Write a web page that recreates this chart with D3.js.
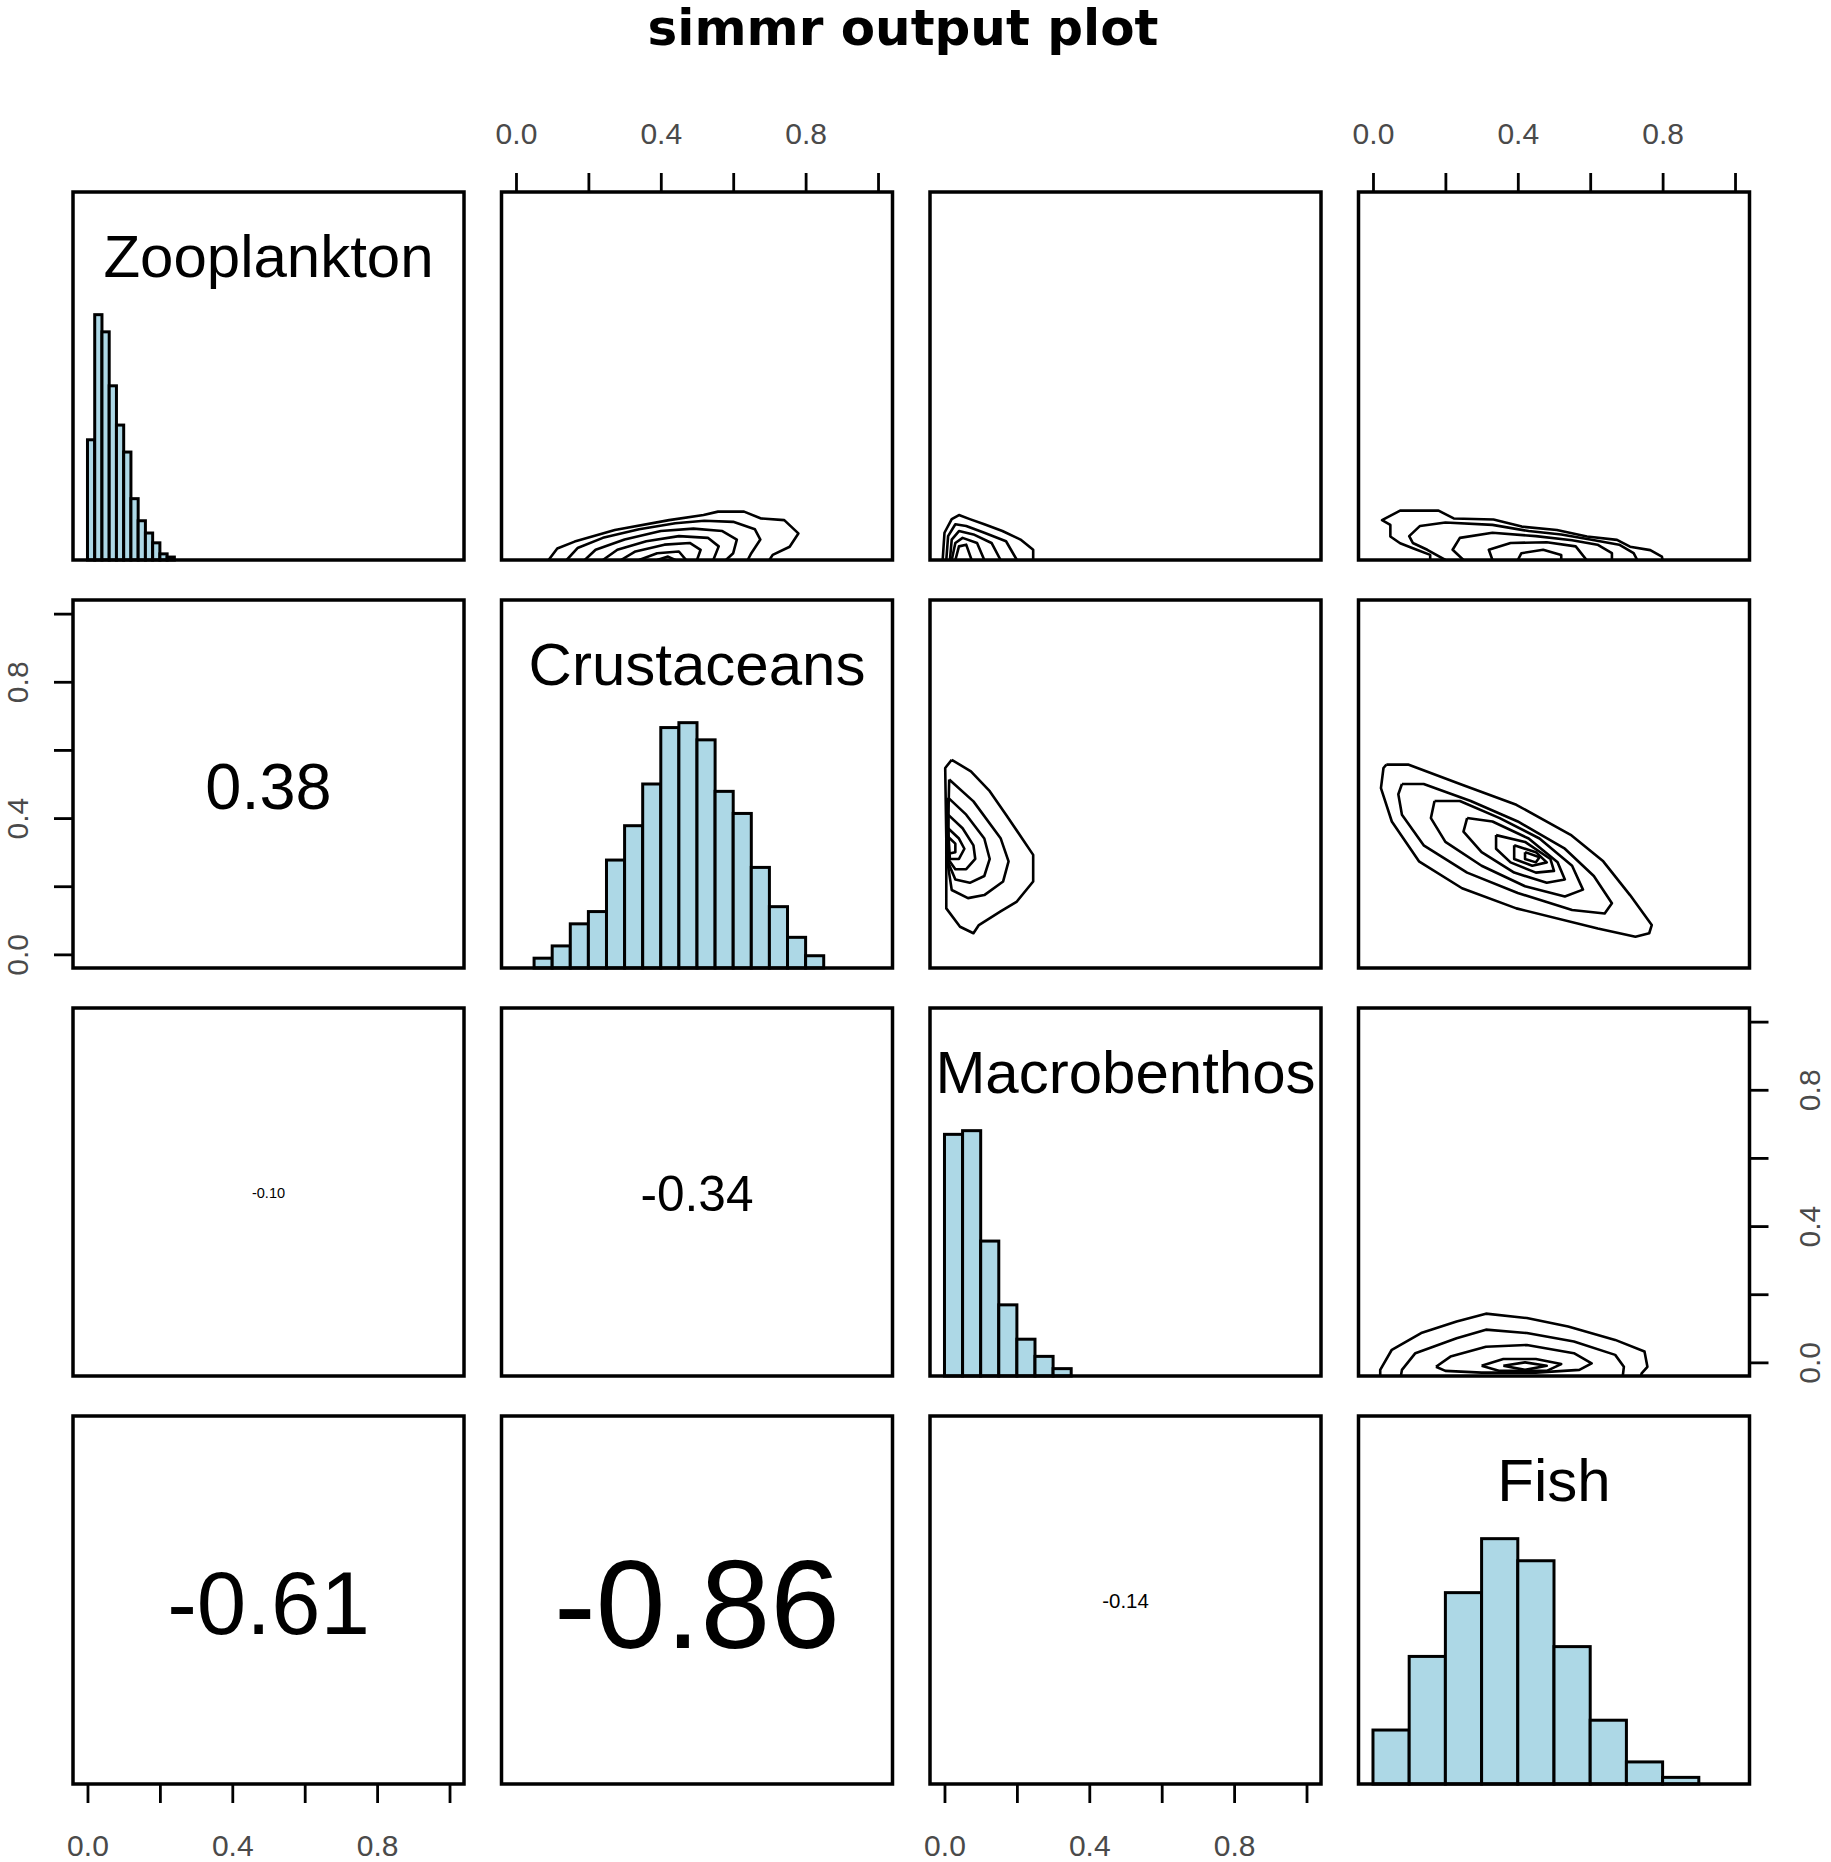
<!DOCTYPE html>
<html>
<head>
<meta charset="utf-8">
<script src="https://cdn.jsdelivr.net/npm/d3@7"></script>
<style>
  body { margin: 0; background: #fff; }
  text { font-family: "Liberation Sans", Arial, sans-serif; }
</style>
</head>
<body>
<div id="chart"></div>
<script>
// ---- data ----
const sources = ['Zooplankton', 'Crustaceans', 'Macrobenthos', 'Fish'];

// histogram breaks and counts relative to the tallest bar
const zooBreaks = [0, 0.02, 0.04, 0.06, 0.08, 0.10, 0.12, 0.14, 0.16, 0.18, 0.20, 0.22, 0.24];
const zooCounts = [0.49, 1.00, 0.93, 0.71, 0.55, 0.44, 0.25, 0.16, 0.11, 0.07, 0.025, 0.012];
const crusBreaks = [0.05, 0.10, 0.15, 0.20, 0.25, 0.30, 0.35, 0.40, 0.45, 0.50, 0.55, 0.60, 0.65, 0.70, 0.75, 0.80, 0.85];
const crusCounts = [0.04, 0.09, 0.18, 0.23, 0.44, 0.58, 0.75, 0.98, 1.00, 0.93, 0.72, 0.63, 0.41, 0.25, 0.125, 0.05];
const macroBreaks = [0, 0.05, 0.10, 0.15, 0.20, 0.25, 0.30, 0.35];
const macroCounts = [0.985, 1.00, 0.55, 0.29, 0.15, 0.08, 0.03];
const fishBreaks = [0, 0.1, 0.2, 0.3, 0.4, 0.5, 0.6, 0.7, 0.8, 0.9];
const fishCounts = [0.22, 0.52, 0.78, 1.00, 0.91, 0.56, 0.26, 0.09, 0.027];

// lower panels: [row, col, correlation]
const corRows = [1, 2, 2, 3, 3, 3];
const corCols = [0, 0, 1, 0, 1, 2];
const corValues = [0.38, -0.10, -0.34, -0.61, -0.86, -0.14];

// axis ticks
const tickValues = [0, 0.2, 0.4, 0.6, 0.8, 1.0];
const tickLabels = ['0.0', '', '0.4', '', '0.8', ''];

// density contour rings, [x, y] in axis units (x = column source, y = row source)
const contourZooCrus = [
  [[0.09,-0.04],[0.114,-0.006],[0.162,0.014],[0.273,0.048],[0.423,0.077],[0.518,0.092],[0.558,0.102],[0.63,0.102],[0.677,0.082],[0.741,0.077],[0.78,0.038],[0.756,-0.001],[0.709,-0.025],[0.70,-0.04]],
  [[0.14,-0.04],[0.17,-0.005],[0.24,0.025],[0.34,0.05],[0.44,0.068],[0.52,0.075],[0.60,0.072],[0.66,0.05],[0.675,0.02],[0.65,-0.02],[0.64,-0.04]],
  [[0.19,-0.04],[0.22,-0.01],[0.30,0.02],[0.40,0.045],[0.49,0.052],[0.57,0.045],[0.61,0.02],[0.60,-0.02],[0.58,-0.04]],
  [[0.24,-0.04],[0.28,-0.01],[0.36,0.015],[0.45,0.03],[0.53,0.025],[0.56,0.0],[0.545,-0.04]],
  [[0.29,-0.04],[0.33,-0.015],[0.41,0.005],[0.48,0.01],[0.51,-0.01],[0.50,-0.04]],
  [[0.34,-0.04],[0.39,-0.02],[0.45,-0.015],[0.47,-0.04]],
  [[0.39,-0.04],[0.42,-0.03],[0.44,-0.04]]
];
const contourZooMacro = [
  [[-0.005,-0.04],[0.0,0.04],[0.02,0.08],[0.04,0.092],[0.07,0.08],[0.11,0.065],[0.16,0.045],[0.21,0.02],[0.245,-0.01],[0.245,-0.04]],
  [[0.005,-0.04],[0.01,0.03],[0.03,0.065],[0.06,0.06],[0.11,0.04],[0.17,0.015],[0.20,-0.04]],
  [[0.015,-0.04],[0.02,0.02],[0.04,0.045],[0.08,0.035],[0.13,0.01],[0.155,-0.04]],
  [[0.02,-0.04],[0.03,0.01],[0.05,0.025],[0.09,0.01],[0.11,-0.04]],
  [[0.03,-0.04],[0.04,0.0],[0.06,0.005],[0.075,-0.04]]
];
const contourZooFish = [
  [[0.158,-0.04],[0.158,-0.025],[0.112,-0.006],[0.075,0.009],[0.048,0.029],[0.048,0.063],[0.025,0.077],[0.075,0.105],[0.181,0.105],[0.223,0.082],[0.333,0.079],[0.411,0.058],[0.508,0.048],[0.591,0.029],[0.674,0.019],[0.71,-0.001],[0.766,-0.011],[0.798,-0.03],[0.80,-0.04]],
  [[0.20,-0.04],[0.15,-0.01],[0.11,0.01],[0.10,0.03],[0.13,0.06],[0.20,0.07],[0.33,0.063],[0.43,0.045],[0.52,0.035],[0.60,0.02],[0.68,0.005],[0.72,-0.02],[0.73,-0.04]],
  [[0.25,-0.04],[0.22,-0.01],[0.24,0.025],[0.33,0.04],[0.45,0.03],[0.55,0.018],[0.62,0.005],[0.66,-0.02],[0.66,-0.04]],
  [[0.33,-0.04],[0.32,-0.01],[0.38,0.01],[0.48,0.012],[0.56,0.0],[0.59,-0.04]],
  [[0.40,-0.04],[0.41,-0.02],[0.47,-0.01],[0.52,-0.025],[0.52,-0.04]]
];
const contourCrusMacro = [
  [[0.02,0.571],[0.073,0.537],[0.125,0.479],[0.17,0.41],[0.245,0.292],[0.245,0.214],[0.20,0.155],[0.155,0.126],[0.095,0.086],[0.08,0.062],[0.043,0.081],[0.005,0.135],[0.005,0.341],[0.002,0.547],[0.02,0.571]],
  [[0.013,0.513],[0.08,0.449],[0.155,0.341],[0.177,0.273],[0.162,0.214],[0.11,0.174],[0.065,0.165],[0.02,0.189],[0.008,0.273],[0.013,0.513]],
  [[0.01,0.46],[0.06,0.41],[0.11,0.34],[0.125,0.28],[0.11,0.23],[0.07,0.21],[0.03,0.22],[0.01,0.27],[0.01,0.46]],
  [[0.01,0.41],[0.05,0.37],[0.08,0.32],[0.085,0.28],[0.06,0.25],[0.03,0.25],[0.01,0.28],[0.01,0.41]],
  [[0.01,0.37],[0.04,0.34],[0.055,0.31],[0.04,0.28],[0.015,0.28],[0.01,0.37]],
  [[0.01,0.345],[0.03,0.325],[0.03,0.30],[0.01,0.295],[0.01,0.345]]
];
const contourCrusFish = [
  [[0.037,0.557],[0.097,0.557],[0.246,0.498],[0.396,0.439],[0.546,0.351],[0.636,0.273],[0.71,0.174],[0.77,0.086],[0.763,0.062],[0.725,0.052],[0.621,0.076],[0.396,0.135],[0.246,0.194],[0.127,0.273],[0.052,0.39],[0.022,0.488],[0.029,0.547],[0.037,0.557]],
  [[0.08,0.50],[0.14,0.50],[0.27,0.45],[0.40,0.39],[0.53,0.31],[0.61,0.23],[0.66,0.15],[0.64,0.12],[0.55,0.13],[0.40,0.18],[0.26,0.24],[0.14,0.32],[0.08,0.41],[0.07,0.47],[0.08,0.50]],
  [[0.17,0.45],[0.24,0.45],[0.35,0.40],[0.46,0.34],[0.55,0.26],[0.58,0.19],[0.53,0.17],[0.42,0.20],[0.30,0.26],[0.20,0.33],[0.16,0.40],[0.17,0.45]],
  [[0.26,0.40],[0.33,0.39],[0.43,0.34],[0.51,0.27],[0.53,0.22],[0.48,0.21],[0.39,0.24],[0.30,0.30],[0.25,0.36],[0.26,0.40]],
  [[0.34,0.35],[0.42,0.33],[0.49,0.28],[0.50,0.245],[0.45,0.24],[0.38,0.27],[0.34,0.31],[0.34,0.35]],
  [[0.39,0.32],[0.45,0.30],[0.48,0.27],[0.44,0.26],[0.39,0.28],[0.39,0.32]],
  [[0.42,0.30],[0.46,0.285],[0.45,0.27],[0.42,0.28],[0.42,0.30]]
];
const contourMacroFish = [
  [[0.02,-0.04],[0.02,-0.022],[0.052,0.037],[0.133,0.086],[0.231,0.12],[0.312,0.143],[0.425,0.13],[0.539,0.105],[0.669,0.066],[0.75,0.032],[0.758,-0.013],[0.742,-0.032],[0.74,-0.04]],
  [[0.077,-0.04],[0.08,-0.022],[0.117,0.027],[0.231,0.071],[0.312,0.096],[0.425,0.086],[0.555,0.061],[0.669,0.022],[0.693,-0.013],[0.69,-0.04]],
  [[0.174,-0.013],[0.214,0.017],[0.312,0.046],[0.425,0.051],[0.555,0.027],[0.604,-0.003],[0.57,-0.022],[0.45,-0.03],[0.30,-0.03],[0.20,-0.025],[0.174,-0.013]],
  [[0.30,-0.01],[0.36,0.01],[0.45,0.01],[0.52,-0.005],[0.48,-0.025],[0.35,-0.025],[0.30,-0.01]],
  [[0.36,-0.01],[0.42,0.0],[0.48,-0.01],[0.42,-0.022],[0.36,-0.01]]
];

// ---- layout ----
const width = 1831, height = 1862;
const panelW = 391, panelH = 368;
const colX = j => 73 + j * 428.5;
const rowY = i => 192 + i * 408;
const n = sources.length;

const hists = [
  { breaks: zooBreaks, counts: zooCounts },
  { breaks: crusBreaks, counts: crusCounts },
  { breaks: macroBreaks, counts: macroCounts },
  { breaks: fishBreaks, counts: fishCounts }
];
const contours = {
  '0-1': contourZooCrus, '0-2': contourZooMacro, '0-3': contourZooFish,
  '1-2': contourCrusMacro, '1-3': contourCrusFish, '2-3': contourMacroFish
};

const svg = d3.select('#chart')
  .append('svg')
  .attr('width', width)
  .attr('height', height);

svg.append('text')
  .attr('x', 903)
  .attr('y', 45)
  .attr('text-anchor', 'middle')
  .style('font-family', '"DejaVu Sans", Verdana, sans-serif')
  .style('font-weight', 'bold')
  .style('font-size', '50px')
  .text('simmr output plot');

for (let i = 0; i < n; i++) {
  for (let j = 0; j < n; j++) {
    const left = colX(j), top = rowY(i);
    const x = d3.scaleLinear().domain([-0.04, 1.04]).range([left, left + panelW]);
    const y = d3.scaleLinear().domain([-0.04, 1.04]).range([top + panelH, top]);
    const g = svg.append('g');

    const clipId = `clip-${i}-${j}`;
    svg.append('clipPath').attr('id', clipId)
      .append('rect')
      .attr('x', left).attr('y', top).attr('width', panelW).attr('height', panelH);

    if (i === j) {
      // diagonal: histogram + source name
      const h = hists[i];
      const yh = d3.scaleLinear().domain([0, 1.5]).range([top + panelH, top]);
      g.selectAll('rect.bar')
        .data(h.counts)
        .enter()
        .append('rect')
        .attr('class', 'bar')
        .attr('x', (d, k) => x(h.breaks[k]))
        .attr('width', (d, k) => x(h.breaks[k + 1]) - x(h.breaks[k]))
        .attr('y', d => yh(d))
        .attr('height', d => yh(0) - yh(d))
        .attr('fill', '#add8e6')
        .attr('stroke', '#000')
        .attr('stroke-width', 3);
      g.append('text')
        .attr('x', left + panelW / 2)
        .attr('y', top + 85)
        .attr('text-anchor', 'middle')
        .style('font-size', '60px')
        .text(sources[i]);
    } else if (j > i) {
      // upper: 2D density contours
      const line = d3.line().x(d => x(d[0])).y(d => y(d[1]));
      g.append('g')
        .attr('clip-path', `url(#${clipId})`)
        .selectAll('path')
        .data(contours[`${i}-${j}`])
        .enter()
        .append('path')
        .attr('d', line)
        .attr('fill', 'none')
        .attr('stroke', '#000')
        .attr('stroke-width', 2.6)
        .attr('stroke-linejoin', 'round');
    }

    // frame
    g.append('rect')
      .attr('x', left).attr('y', top)
      .attr('width', panelW).attr('height', panelH)
      .attr('fill', 'none')
      .attr('stroke', '#000')
      .attr('stroke-width', 3.5);

    // outer axes, alternating like R's pairs()
    let axis = null, offset = null, rotate = false;
    if (i === 0 && j % 2 === 1) {
      axis = d3.axisTop(x);
      offset = [0, top, 'y', -59];
    } else if (i === n - 1 && j % 2 === 0) {
      axis = d3.axisBottom(x);
      offset = [0, top + panelH, 'y', 61];
    } else if (j === 0 && i % 2 === 1) {
      axis = d3.axisLeft(y); rotate = true;
      offset = [left, 0, 'x', -56];
    } else if (j === n - 1 && i % 2 === 0) {
      axis = d3.axisRight(y); rotate = true;
      offset = [left + panelW, 0, 'x', 60];
    }
    if (axis) {
      axis.tickValues(tickValues)
        .tickFormat((d, k) => tickLabels[k])
        .tickSize(19)
        .tickSizeOuter(0);
      const ag = svg.append('g')
        .attr('transform', `translate(${offset[0]},${offset[1]})`)
        .call(axis);
      ag.select('.domain').remove();
      ag.selectAll('.tick line').attr('stroke', '#000').attr('stroke-width', 2.8);
      const labels = ag.selectAll('.tick text')
        .attr('fill', '#4a4a4a')
        .style('font-size', '30px')
        .style('font-family', '"Liberation Sans", Arial, sans-serif');
      if (rotate) {
        labels.attr('x', 0).attr('y', 0).attr('dy', '0.36em')
          .attr('text-anchor', 'middle')
          .attr('transform', `translate(${offset[3]},0) rotate(-90)`);
      } else {
        labels.attr('y', offset[3]).attr('dy', '0.36em');
      }
    }
  }
}

// lower: correlation text, sized in proportion to |r|
corValues.forEach((r, k) => {
  const i = corRows[k], j = corCols[k];
  const txt = r.toFixed(2);
  const t = svg.append('text')
    .attr('x', colX(j) + panelW / 2)
    .attr('y', rowY(i) + panelH / 2)
    .attr('text-anchor', 'middle')
    .style('font-size', '100px')
    .text(txt);
  const w = t.node().getComputedTextLength();
  const fs = 100 * (0.85 * Math.abs(r) * panelW) / w;
  t.style('font-size', fs + 'px').attr('dy', '0.38em');
});
</script>
</body>
</html>
